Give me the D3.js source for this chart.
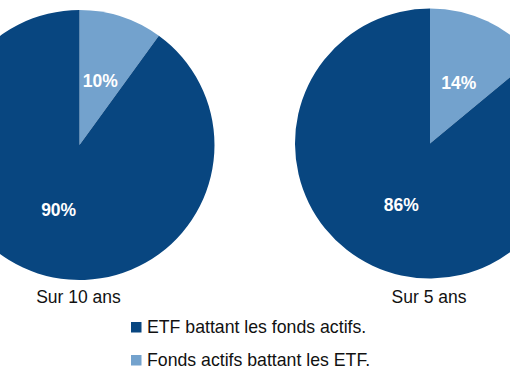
<!DOCTYPE html>
<html><head><meta charset="utf-8">
<script src="https://cdn.jsdelivr.net/npm/d3@7"></script>
<style>html,body{margin:0;padding:0;background:#fff;overflow:hidden}</style>
</head><body>
<svg id="c" width="510" height="380"></svg>
<script>
const series = ["ETF battant les fonds actifs.", "Fonds actifs battant les ETF."];
const periods = ["Sur 10 ans", "Sur 5 ans"];
const values10 = [90, 10];
const values5 = [86, 14];
const colors = ["#084680", "#73a2cd"];

const svg = d3.select("#c");
const font = "'Liberation Sans', Arial, Helvetica, sans-serif";
const R = 135;
const pies = [
  {cx: 79.5, cy: 145, vals: values10, label: periods[0]},
  {cx: 430, cy: 143.5, vals: values5, label: periods[1]}
];
const color = d3.scaleOrdinal().domain(series).range(colors);
const pie = d3.pie().sort(null).value(d => d.v);
const arc = d3.arc().innerRadius(0).outerRadius(R);

pies.forEach(p => {
  const data = [{k: series[1], v: p.vals[1]}, {k: series[0], v: p.vals[0]}];
  const g = svg.append("g").attr("transform", `translate(${p.cx},${p.cy})`);
  const arcs = pie(data);
  g.selectAll("path").data(arcs).join("path")
    .attr("d", arc).attr("fill", d => color(d.data.k));
  g.selectAll("text").data(arcs).join("text")
    .attr("transform", d => `translate(${arc.centroid(d)})`)
    .attr("text-anchor", "middle").attr("dy", "0.36em")
    .attr("fill", "#fff").attr("font-family", font).attr("font-weight", "bold")
    .attr("font-size", 17.5).text(d => d.data.v + "%");
  svg.append("text").attr("x", p.cx - 1).attr("y", 303)
    .attr("text-anchor", "middle").attr("font-family", font)
    .attr("font-size", 17.5).attr("fill", "#111").text(p.label);
});

const leg = svg.append("g");
series.forEach((s, i) => {
  const y = 322 + i * 33;
  leg.append("rect").attr("x", 131).attr("y", y).attr("width", 10.5).attr("height", 10.5)
    .attr("fill", colors[i]);
  leg.append("text").attr("x", 147).attr("y", y + 11).attr("font-family", font)
    .attr("font-size", 17.7).attr("fill", "#111").text(s);
});
</script>
</body></html>
